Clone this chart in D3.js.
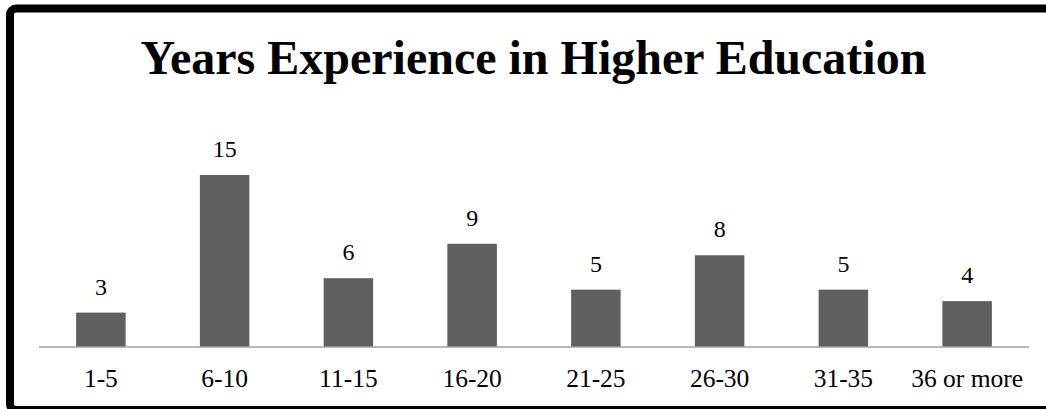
<!DOCTYPE html>
<html><head><meta charset="utf-8">
<script src="https://cdn.jsdelivr.net/npm/d3@7"></script>
<style>body{margin:0;background:#fff;}svg{display:block;}</style>
</head><body>
<script>
const categories = ["1-5","6-10","11-15","16-20","21-25","26-30","31-35","36 or more"];
const values = [3,15,6,9,5,8,5,4];
const title = "Years Experience in Higher Education";

const W = 1046, H = 409;
const svg = d3.select("body").append("svg").attr("width", W).attr("height", H);
svg.append("rect").attr("width", W).attr("height", H).attr("fill", "#fff");
// frame
svg.append("rect").attr("x", 10).attr("y", 8.5).attr("width", 1100).attr("height", 401.5)
  .attr("rx", 6).attr("fill", "none").attr("stroke", "#000").attr("stroke-width", 8);

const x = d3.scaleBand().domain(categories).range([39, 1029]).paddingInner(0.6).paddingOuter(0.3);
const y = d3.scaleLinear().domain([0, 15]).range([347, 175]);
const font = "'Liberation Serif','Times New Roman',serif";

svg.append("text").attr("x", 533.5).attr("y", 73.5).attr("text-anchor", "middle")
  .attr("font-family", font).attr("font-weight", "bold").attr("font-size", 48).attr("fill", "#000").text(title);

svg.selectAll("rect.bar").data(values).enter().append("rect").attr("class", "bar")
  .attr("x", (d, i) => x(categories[i])).attr("width", x.bandwidth())
  .attr("y", d => y(d)).attr("height", d => y(0) - y(d)).attr("fill", "#606060");

svg.selectAll("text.val").data(values).enter().append("text").attr("class", "val")
  .attr("x", (d, i) => x(categories[i]) + x.bandwidth() / 2).attr("y", d => y(d) - 18)
  .attr("text-anchor", "middle").attr("font-family", font).attr("font-size", 24).attr("fill", "#000").text(d => d);

const axis = svg.append("g").attr("transform", `translate(0,${y(0)})`)
  .call(d3.axisBottom(x).tickSize(0).tickPadding(22));
axis.select(".domain").attr("stroke", "#a0a0a0").attr("stroke-width", 1.5).attr("d", "M39,0H1029");
axis.selectAll("text").attr("font-family", font).attr("font-size", 25.5).attr("fill", "#000");
</script>
</body></html>
